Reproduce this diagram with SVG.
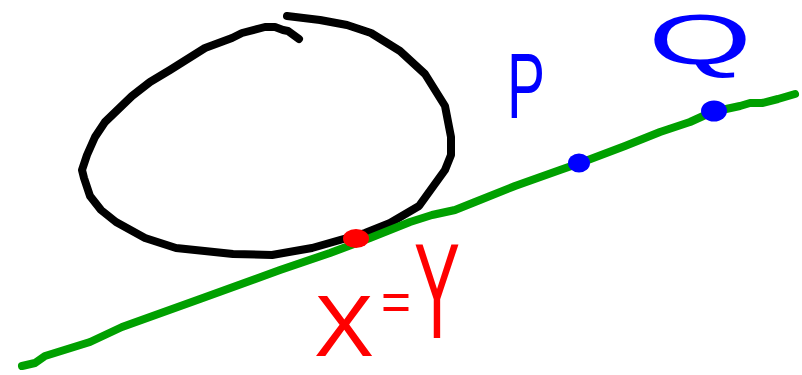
<svg xmlns="http://www.w3.org/2000/svg" width="802" height="375" viewBox="0 0 802 375">
<style>
.stroke{fill:none;stroke-width:8;stroke-linecap:round;stroke-linejoin:round}
.lbl{font-family:"Liberation Sans",Arial,sans-serif;font-weight:normal}
</style>
<rect width="802" height="375" fill="#fff"/>
<g id="curve">
<polyline class="stroke" stroke="#000" points="299,39 288,31 283,30 275,27 265,27 242,33 232,38 205,48 170,70 150,82 132,96 105,122 95,137 87,155 82,170 84,178 90,196 101,210 116,222 145,238 176,248 233,254 272,255 312,248 340,240 365,233 390,223 419,206 445,170 451,155 451,137 445,106 425,74 400,51 371,33 347,25 320,20 287,16"/>
</g>
<g id="line">
<polyline class="stroke" stroke="#00a000" points="22,366 35,363 45,356 90,342 122,327 200,299 280,270 330,253 370,238 410,222 432,215 455,210 475,202 515,186 560,170 580,163 625,146 660,132 690,122 712,112 740,106 750,103 762,103 778,99 795,94"/>
</g>
<g id="points">
<ellipse cx="356" cy="238.5" rx="13" ry="9.5" fill="#f00"/>
<ellipse cx="579" cy="163" rx="11" ry="9.5" fill="#00f"/>
<ellipse cx="714" cy="111" rx="13" ry="10.5" fill="#00f"/>
</g>
<g id="labels">
<text class="lbl" fill="#00f" x="507" y="118" font-size="92" textLength="38" lengthAdjust="spacingAndGlyphs">P</text>
<text class="lbl" fill="#00f" x="648" y="64" font-size="70" textLength="104" lengthAdjust="spacingAndGlyphs">Q</text>
<text class="lbl" fill="#f00" font-size="88"><tspan x="314" y="356" textLength="60" lengthAdjust="spacingAndGlyphs">X</tspan><tspan x="381" y="320" font-size="54" textLength="30" lengthAdjust="spacingAndGlyphs">=</tspan><tspan x="414" y="338" font-size="136" textLength="46" lengthAdjust="spacingAndGlyphs">Y</tspan></text>
</g>
</svg>
